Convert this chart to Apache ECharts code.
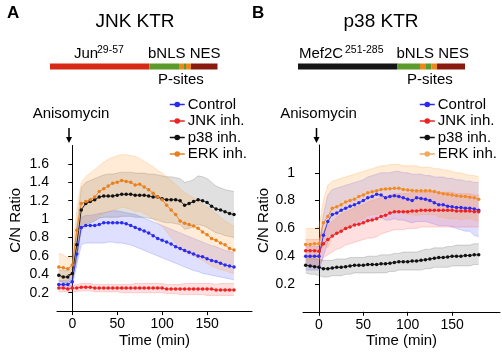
<!DOCTYPE html>
<html><head><meta charset="utf-8">
<script src="https://cdn.jsdelivr.net/npm/echarts@6/dist/echarts.min.js"></script>
<style>html,body{margin:0;padding:0;background:#fff}#c{width:502px;height:355px}</style>
</head><body><div id="c"></div>
<script>
const times = [-15,-10,-5,0,5,10,15,20,25,30,35,40,45,50,55,60,65,70,75,80,85,90,95,100,105,110,115,120,125,130,135,140,145,150,155,160,165,170,175,180];
const seriesNames = ['Control','JNK inh.','p38 inh.','ERK inh.'];
const xTickValues = [0,50,100,150];
const yTicksA = [0.2,0.4,0.6,0.8,1,1.2,1.4,1.6];
const yTicksB = [0.2,0.4,0.6,0.8,1];

// Panel A (JNK KTR)
const aCtrlMean = [0.29,0.29,0.29,0.32,0.62,0.91,0.93,0.93,0.93,0.94,0.96,0.96,0.96,0.96,0.96,0.95,0.93,0.91,0.89,0.87,0.85,0.82,0.79,0.77,0.75,0.73,0.70,0.68,0.66,0.64,0.62,0.60,0.59,0.57,0.55,0.54,0.52,0.50,0.49,0.48];
const aCtrlUp   = [0.33,0.33,0.33,0.36,0.78,1.02,1.04,1.04,1.05,1.06,1.07,1.08,1.09,1.09,1.08,1.07,1.06,1.05,1.03,1.01,0.99,0.97,0.95,0.93,0.91,0.89,0.87,0.85,0.83,0.81,0.79,0.77,0.75,0.73,0.71,0.70,0.68,0.66,0.65,0.63];
const aCtrlLo   = [0.26,0.25,0.25,0.27,0.50,0.72,0.74,0.74,0.74,0.74,0.74,0.75,0.75,0.74,0.74,0.73,0.72,0.70,0.68,0.66,0.64,0.62,0.60,0.58,0.56,0.54,0.52,0.50,0.48,0.46,0.44,0.43,0.41,0.40,0.39,0.38,0.37,0.36,0.35,0.34];
const aJnkMean  = [0.25,0.25,0.24,0.25,0.25,0.26,0.26,0.26,0.25,0.25,0.25,0.25,0.25,0.25,0.25,0.25,0.25,0.25,0.25,0.25,0.25,0.25,0.25,0.25,0.24,0.24,0.24,0.24,0.24,0.24,0.24,0.24,0.24,0.24,0.24,0.23,0.23,0.23,0.23,0.23];
const aJnkUp    = [0.28,0.28,0.28,0.28,0.29,0.30,0.30,0.30,0.29,0.29,0.29,0.29,0.29,0.29,0.29,0.29,0.29,0.30,0.30,0.30,0.30,0.30,0.30,0.30,0.29,0.29,0.29,0.29,0.30,0.30,0.30,0.30,0.30,0.30,0.30,0.29,0.30,0.30,0.30,0.30];
const aJnkLo    = [0.21,0.21,0.21,0.21,0.21,0.22,0.22,0.22,0.21,0.21,0.21,0.21,0.21,0.21,0.20,0.20,0.20,0.20,0.20,0.20,0.20,0.20,0.20,0.20,0.19,0.19,0.19,0.18,0.18,0.18,0.18,0.18,0.18,0.17,0.17,0.17,0.17,0.17,0.17,0.17];
const aP38Mean  = [0.39,0.37,0.37,0.41,0.72,1.10,1.17,1.19,1.21,1.24,1.25,1.25,1.25,1.26,1.27,1.27,1.27,1.26,1.26,1.26,1.25,1.24,1.24,1.22,1.21,1.21,1.21,1.20,1.15,1.17,1.19,1.21,1.20,1.18,1.14,1.11,1.10,1.08,1.06,1.05];
const aP38Up    = [0.45,0.44,0.44,0.48,0.92,1.34,1.40,1.42,1.44,1.46,1.48,1.49,1.49,1.50,1.51,1.51,1.51,1.50,1.50,1.50,1.49,1.49,1.48,1.47,1.46,1.46,1.45,1.44,1.40,1.41,1.43,1.47,1.46,1.44,1.40,1.36,1.34,1.32,1.31,1.30];
const aP38Lo    = [0.33,0.31,0.31,0.34,0.55,0.88,0.94,0.96,0.98,1.01,1.02,1.02,1.02,1.02,1.03,1.03,1.03,1.02,1.02,1.02,1.01,1.00,0.99,0.97,0.96,0.96,0.95,0.94,0.89,0.90,0.92,0.94,0.93,0.91,0.88,0.85,0.84,0.82,0.81,0.80];
const aErkMean  = [0.48,0.47,0.46,0.50,0.88,1.17,1.19,1.21,1.24,1.30,1.33,1.36,1.39,1.40,1.42,1.41,1.40,1.37,1.38,1.35,1.32,1.28,1.24,1.21,1.15,1.10,1.05,0.98,0.955,0.94,0.925,0.90,0.86,0.83,0.79,0.77,0.74,0.72,0.68,0.665];
const aErkUp    = [0.63,0.61,0.58,0.60,1.10,1.40,1.46,1.50,1.54,1.58,1.62,1.65,1.67,1.69,1.70,1.70,1.69,1.68,1.66,1.63,1.60,1.57,1.53,1.50,1.46,1.42,1.38,1.33,1.29,1.26,1.23,1.20,1.16,1.13,1.10,1.06,1.02,0.98,0.95,0.92];
const aErkLo    = [0.33,0.33,0.34,0.38,0.68,0.94,0.96,0.98,1.00,1.04,1.06,1.08,1.10,1.11,1.13,1.12,1.11,1.08,1.09,1.06,1.04,1.00,0.96,0.92,0.86,0.80,0.74,0.67,0.64,0.62,0.60,0.58,0.55,0.52,0.49,0.47,0.45,0.44,0.42,0.41];

// Panel B (p38 KTR)
const bCtrlMean = [0.40,0.40,0.40,0.40,0.55,0.65,0.70,0.71,0.73,0.745,0.76,0.77,0.785,0.80,0.82,0.83,0.845,0.84,0.82,0.83,0.835,0.83,0.82,0.81,0.80,0.82,0.815,0.81,0.80,0.785,0.77,0.77,0.76,0.755,0.75,0.75,0.745,0.745,0.74,0.73];
const bCtrlUp   = [0.47,0.47,0.47,0.47,0.70,0.84,0.88,0.89,0.90,0.91,0.92,0.93,0.94,0.95,0.97,0.98,0.99,1.00,1.00,1.00,1.01,1.01,1.00,1.00,0.99,0.99,0.99,0.98,0.98,0.97,0.97,0.97,0.96,0.96,0.95,0.95,0.94,0.94,0.93,0.93];
const bCtrlLo   = [0.30,0.30,0.30,0.30,0.40,0.50,0.55,0.57,0.59,0.60,0.62,0.63,0.64,0.65,0.66,0.67,0.68,0.68,0.66,0.66,0.67,0.66,0.66,0.65,0.64,0.65,0.65,0.65,0.64,0.63,0.62,0.62,0.62,0.61,0.60,0.59,0.58,0.58,0.55,0.54];
const bJnkMean  = [0.44,0.44,0.44,0.435,0.49,0.52,0.545,0.565,0.58,0.60,0.61,0.625,0.63,0.64,0.655,0.66,0.67,0.685,0.695,0.71,0.72,0.72,0.72,0.72,0.725,0.725,0.73,0.73,0.73,0.73,0.73,0.73,0.73,0.73,0.725,0.725,0.725,0.725,0.72,0.72];
const bJnkUp    = [0.52,0.52,0.52,0.52,0.58,0.62,0.65,0.68,0.70,0.72,0.73,0.75,0.76,0.77,0.79,0.80,0.81,0.82,0.83,0.84,0.85,0.85,0.85,0.85,0.86,0.86,0.86,0.86,0.86,0.86,0.86,0.86,0.86,0.86,0.85,0.85,0.85,0.85,0.84,0.84];
const bJnkLo    = [0.33,0.33,0.33,0.33,0.39,0.41,0.43,0.45,0.46,0.48,0.49,0.50,0.51,0.52,0.53,0.53,0.54,0.56,0.57,0.58,0.59,0.59,0.59,0.60,0.60,0.60,0.61,0.61,0.61,0.61,0.61,0.61,0.61,0.61,0.61,0.61,0.61,0.61,0.61,0.61];
const bP38Mean  = [0.335,0.33,0.325,0.32,0.31,0.31,0.315,0.32,0.32,0.325,0.33,0.335,0.335,0.335,0.34,0.34,0.34,0.345,0.345,0.35,0.355,0.36,0.36,0.36,0.365,0.365,0.37,0.375,0.38,0.385,0.39,0.39,0.395,0.40,0.40,0.40,0.405,0.405,0.41,0.41];
const bP38Up    = [0.39,0.39,0.38,0.38,0.37,0.37,0.37,0.38,0.38,0.38,0.39,0.39,0.39,0.39,0.40,0.40,0.40,0.41,0.41,0.41,0.42,0.42,0.43,0.43,0.43,0.43,0.44,0.45,0.45,0.46,0.46,0.46,0.47,0.47,0.48,0.48,0.48,0.48,0.49,0.49];
const bP38Lo    = [0.28,0.27,0.27,0.26,0.25,0.25,0.26,0.26,0.26,0.27,0.27,0.28,0.28,0.28,0.28,0.28,0.28,0.28,0.28,0.29,0.29,0.30,0.30,0.30,0.30,0.30,0.30,0.31,0.31,0.32,0.32,0.32,0.32,0.33,0.33,0.33,0.33,0.33,0.34,0.34];
const bErkMean  = [0.485,0.485,0.49,0.49,0.64,0.685,0.745,0.755,0.77,0.79,0.80,0.81,0.83,0.84,0.857,0.864,0.871,0.88,0.883,0.886,0.888,0.888,0.88,0.876,0.873,0.87,0.87,0.87,0.87,0.865,0.857,0.85,0.845,0.84,0.835,0.832,0.83,0.825,0.82,0.81];
const bErkUp    = [0.60,0.60,0.60,0.61,0.80,0.91,0.94,0.95,0.96,0.97,0.98,0.99,1.00,1.01,1.02,1.03,1.04,1.05,1.05,1.06,1.06,1.06,1.05,1.05,1.05,1.05,1.04,1.04,1.04,1.03,1.03,1.02,1.02,1.01,1.00,1.00,0.99,0.98,0.98,0.97];
const bErkLo    = [0.37,0.37,0.38,0.37,0.48,0.46,0.55,0.56,0.58,0.61,0.62,0.63,0.66,0.67,0.69,0.70,0.70,0.71,0.72,0.71,0.72,0.72,0.71,0.70,0.70,0.69,0.70,0.70,0.70,0.70,0.68,0.68,0.67,0.67,0.67,0.66,0.67,0.67,0.66,0.65];

const FONT = '"Liberation Sans", Arial, sans-serif';
const lineColors = ['#2a2af2','#ee2222','#111111','#e8801e'];
const lineColorsB = ['#2a2af2','#ee2222','#111111','#f08a24'];
const bandFill = ['rgba(95,95,255,0.20)','rgba(255,95,95,0.20)','rgba(70,70,70,0.17)','rgba(255,165,70,0.22)'];
const bandEdge = ['rgba(95,95,255,0.35)','rgba(255,95,95,0.35)','rgba(70,70,70,0.3)','rgba(255,165,70,0.4)'];

function pairs(arr){ return times.map((t,i)=>[t, arr[i]]); }

function bandSeries(gi, k, lo, up){
  return {type:'custom', name: seriesNames[k]+' band', xAxisIndex:gi, yAxisIndex:gi, silent:true, z:1, clip:true,
    data: times.map((t,i)=>[t, lo[i], up[i]]), encode:{x:0, y:[1,2]},
    renderItem: function(params, api){
      if (params.dataIndex !== 0) return null;
      const top = times.map((t,i)=>api.coord([t, up[i]]));
      const bot = times.map((t,i)=>api.coord([t, lo[i]])).reverse();
      return {type:'group', children:[
        {type:'polygon', shape:{points: top.concat(bot)}, style:{fill:bandFill[k], stroke:null}},
        {type:'polyline', shape:{points: top}, style:{fill:null, stroke:bandEdge[k], lineWidth:0.7}},
        {type:'polyline', shape:{points: bot}, style:{fill:null, stroke:bandEdge[k], lineWidth:0.7}}
      ]};
    }};
}

function panelSeries(gi, means, ups, los, colors){
  const out = [];
  means.forEach((m, k) => out.push(bandSeries(gi, k, los[k], ups[k])));
  means.forEach((m, k) => {
    out.push({type:'line', name: seriesNames[k], xAxisIndex:gi, yAxisIndex:gi, data: pairs(m),
      symbol:'circle', symbolSize:3.5, showAllSymbol:true, z:5,
      itemStyle:{color:colors[k]}, lineStyle:{width:0.9, color:colors[k]}});
  });
  return out;
}

function xAxisCfg(gi, min, max){
  return {type:'value', gridIndex:gi, min:min, max:max,
    axisLine:{show:true, lineStyle:{color:'#000', width:1}},
    axisTick:{show:true, length:4, customValues:xTickValues, lineStyle:{color:'#000'}},
    axisLabel:{customValues:xTickValues, color:'#000', fontSize:14, fontFamily:FONT, margin:6},
    splitLine:{show:false},
    name:'Time (min)', nameLocation:'middle', nameGap:22,
    nameTextStyle:{color:'#000', fontSize:15, fontFamily:FONT}};
}
function yAxisCfg(gi, max, ticks, gap){
  return {type:'value', gridIndex:gi, min:0, max:max,
    axisLine:{show:true, lineStyle:{color:'#000', width:1}},
    axisTick:{show:true, length:4, customValues:ticks, lineStyle:{color:'#000'}},
    axisLabel:{customValues:ticks, color:'#000', fontSize:14, fontFamily:FONT, margin:8},
    splitLine:{show:false},
    name:'C/N Ratio', nameLocation:'middle', nameGap:gap, nameRotate:90,
    nameTextStyle:{color:'#000', fontSize:15, fontFamily:FONT, padding:[0,0,0,16]}};
}

function legendCfg(left, colors){
  return {orient:'vertical', left:left, top:92, itemGap:1.5, itemWidth:15, itemHeight:7,
    selectedMode:false, textStyle:{fontSize:15, fontFamily:FONT, color:'#000', padding:[0,0,0,-2]},
    data: seriesNames.map((n,k)=>({name:n, itemStyle:{color:colors[k]}, lineStyle:{color:colors[k], width:1.5}}))};
}

function txt(x, y, s, size, opts){
  return {type:'text', x:x, y:y, silent:true,
    style:{text:s, font: (opts && opts.bold ? 'bold ' : '') + size + 'px ' + FONT, fill:'#000',
      align:(opts && opts.align) || 'left', verticalAlign:'middle'}};
}
function rect(x1, x2, y, h, color){
  return {type:'rect', silent:true, shape:{x:x1, y:y, width:x2-x1, height:h}, style:{fill:color}};
}
function arrow(x, y1, y2){
  return [{type:'line', silent:true, shape:{x1:x, y1:y1, x2:x, y2:y2-5}, style:{stroke:'#000', lineWidth:1.5}},
          {type:'polygon', silent:true, shape:{points:[[x-3,y2-6],[x+3,y2-6],[x,y2]]}, style:{fill:'#000'}}];
}

const graphics = [
  txt(7, 13, 'A', 17, {bold:true}),
  txt(135, 22, 'JNK KTR', 19, {align:'center'}),
  txt(74, 54, 'Jun', 15), txt(97, 50, '29-57', 10.5),
  txt(148, 54, 'bNLS NES', 15),
  txt(158, 79.5, 'P-sites', 15),
  rect(50, 149.5, 63.5, 6, '#d62a16'), rect(149.5, 179, 63.5, 6, '#5c9a2c'), rect(179, 184, 63.5, 6, '#ea8a1c'),
  rect(184, 186, 63.5, 6, '#5c9a2c'), rect(186, 191, 63.5, 6, '#ea8a1c'), rect(191, 217.5, 63.5, 6, '#8a1a10'),
  txt(71, 114, 'Anisomycin', 15, {align:'center'}),
  ...arrow(69, 128, 143),

  txt(252, 13, 'B', 17, {bold:true}),
  txt(381, 22, 'p38 KTR', 19, {align:'center'}),
  txt(299, 54, 'Mef2C', 15), txt(345, 50, '251-285', 10.5),
  txt(396.5, 54, 'bNLS NES', 15),
  txt(407, 79.5, 'P-sites', 15),
  rect(298, 397.5, 63.5, 6, '#151515'), rect(397.5, 420, 63.5, 6, '#5c9a2c'), rect(420, 426, 63.5, 6, '#ea8a1c'),
  rect(426, 431.5, 63.5, 6, '#5c9a2c'), rect(431.5, 437, 63.5, 6, '#ea8a1c'), rect(437, 465, 63.5, 6, '#8a1a10'),
  txt(318.5, 114, 'Anisomycin', 15, {align:'center'}),
  ...arrow(316.5, 128, 143)
];

const chart = echarts.init(document.getElementById('c'), null, {renderer:'canvas'});
chart.setOption({
  animation:false,
  backgroundColor:'#fff',
  textStyle:{fontFamily:FONT},
  grid:[
    {left:57, top:145.5, width:195, height:165.6},
    {left:303, top:145, width:197, height:166.8}
  ],
  xAxis:[xAxisCfg(0, -17, 200), xAxisCfg(1, -18, 204)],
  yAxis:[yAxisCfg(0, 1.8, yTicksA, 34), yAxisCfg(1, 1.2, yTicksB, 30)],
  legend:[legendCfg(164, lineColors), legendCfg(414, ['#2a2af2','#ee2222','#111111','#eeaa60'])],
  graphic:graphics,
  series:[
    ...panelSeries(0, [aCtrlMean,aJnkMean,aP38Mean,aErkMean], [aCtrlUp,aJnkUp,aP38Up,aErkUp], [aCtrlLo,aJnkLo,aP38Lo,aErkLo], lineColors),
    ...panelSeries(1, [bCtrlMean,bJnkMean,bP38Mean,bErkMean], [bCtrlUp,bJnkUp,bP38Up,bErkUp], [bCtrlLo,bJnkLo,bP38Lo,bErkLo], lineColorsB)
  ]
});
</script>
</body></html>
